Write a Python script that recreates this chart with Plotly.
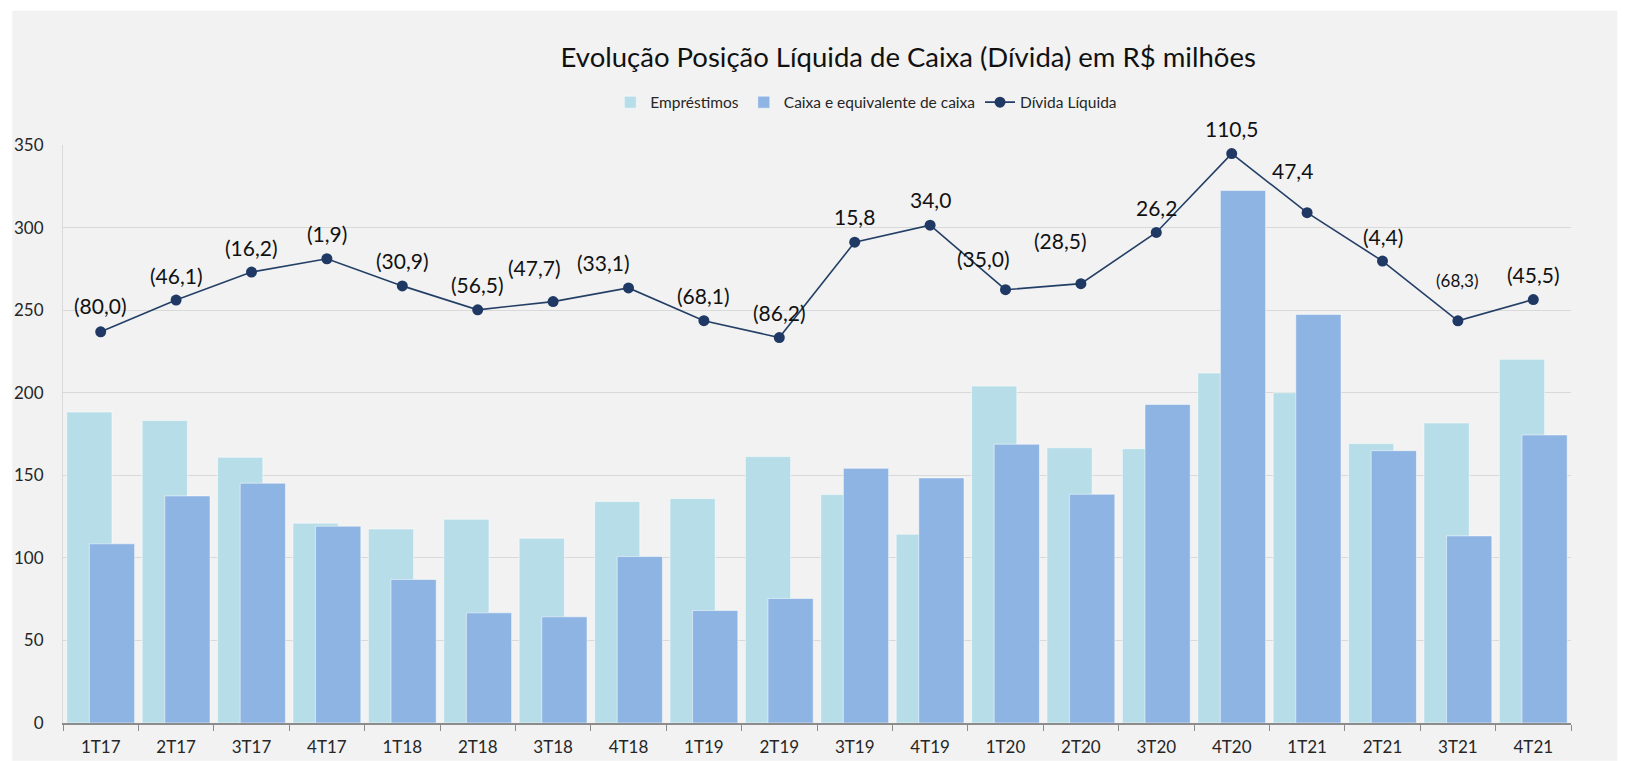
import plotly.graph_objects as go

categories = ["1T17", "2T17", "3T17", "4T17", "1T18", "2T18", "3T18", "4T18", "1T19", "2T19",
              "3T19", "4T19", "1T20", "2T20", "3T20", "4T20", "1T21", "2T21", "3T21", "4T21"]
emprestimos = [188.3, 183.1, 160.9, 121.0, 117.5, 123.4, 111.9, 134.1, 135.9, 161.3,
               138.3, 114.3, 204.0, 166.7, 166.1, 211.9, 200.0, 169.2, 181.7, 220.2]
caixa = [108.5, 137.5, 145.2, 119.2, 86.9, 66.7, 64.3, 100.8, 68.1, 75.4,
         154.2, 148.4, 168.8, 138.5, 192.9, 322.4, 247.4, 164.9, 113.3, 174.4]
divida_liquida = [-80.0, -46.1, -16.2, -1.9, -30.9, -56.5, -47.7, -33.1, -68.1, -86.2,
                  15.8, 34.0, -35.0, -28.5, 26.2, 110.5, 47.4, -4.4, -68.3, -45.5]
y_ticks = [0, 50, 100, 150, 200, 250, 300, 350]

# label placement styling (pixel shifts relative to each marker)
label_xshift = [0, 0, 0, 0, 0, 0, -19, -25, 0, 0, 0, 0, -22, -20, 0, 0, -15, 0, 0, 0]
label_yshift = [26, 25, 25, 25, 25, 25, 34, 25, 25, 25, 26, 26, 31, 43, 25, 25, 42, 25, 40, 25]
label_size = [21] * 18 + [17, 21]

FONT = "Lato"
TXT = "#262626"

def fmt(v):
    s = f"{abs(v):.1f}".replace(".", ",")
    return f"({s})" if v < 0 else s

fig = go.Figure()
fig.add_trace(go.Bar(
    x=categories, y=emprestimos, name="Empréstimos",
    width=0.6, offset=-0.45,
    marker=dict(color="#b7dee8", line=dict(color="rgba(255,255,255,0.5)", width=1)),
))
fig.add_trace(go.Bar(
    x=categories, y=caixa, name="Caixa e equivalente de caixa",
    width=0.6, offset=-0.15,
    marker=dict(color="#8eb4e3", line=dict(color="rgba(255,255,255,0.5)", width=1)),
))
fig.add_trace(go.Scatter(
    x=categories, y=divida_liquida, name="Dívida Líquida", yaxis="y2",
    mode="lines+markers",
    line=dict(color="#243f66", width=1.6),
    marker=dict(color="#1f3864", size=11),
    cliponaxis=False,
))

for c, v, dx, dy, fs in zip(categories, divida_liquida, label_xshift, label_yshift, label_size):
    fig.add_annotation(x=c, y=v, xref="x", yref="y2", text=fmt(v), showarrow=False,
                       xshift=dx, yshift=dy, font=dict(family=FONT, size=fs, color="#111111"),
                       xanchor="center", yanchor="middle")

# gray chart area
fig.add_shape(type="rect", xref="paper", yref="paper",
              x0=-0.0336, x1=1.0307, y0=-0.0651, y1=1.2324,
              fillcolor="#f2f2f2", line=dict(width=0), layer="below")

fig.update_layout(
    width=1626, height=761,
    margin=dict(l=62.7, r=55.3, t=144.5, b=37.7, pad=0),
    paper_bgcolor="white", plot_bgcolor="#f2f2f2",
    barmode="overlay",
    font=dict(family=FONT, color=TXT),
    title=dict(text="Evolução Posição Líquida de Caixa (Dívida) em R$ milhões",
               x=0.5605, xref="paper", xanchor="center",
               y=1 - 57 / 761, yref="container", yanchor="middle",
               font=dict(family=FONT, size=27.5, color="#111111")),
    legend=dict(orientation="h", x=0.5327, xanchor="center", y=1.0734, yanchor="middle",
                font=dict(family=FONT, size=15.5, color=TXT), bgcolor="rgba(0,0,0,0)",
                traceorder="normal"),
    xaxis=dict(type="category", showgrid=False, showline=True, linecolor="#8c8c8c", linewidth=1.8,
               ticks="outside", tickson="boundaries", ticklen=6, tickcolor="#8c8c8c", tickwidth=1.3,
               tickfont=dict(family=FONT, size=17, color=TXT), range=[-0.5, 19.5],
               ticklabelstandoff=8, automargin=False),
    yaxis=dict(range=[0, 350], tickvals=y_ticks, showgrid=True, gridcolor="#d9d9d9", gridwidth=1.3,
               showline=True, linecolor="#d9d9d9", zeroline=False, automargin=False,
               tickfont=dict(family=FONT, size=17, color=TXT), ticklabelstandoff=15),
    yaxis2=dict(overlaying="y", range=[-498.2, 119.7], visible=False, showgrid=False),
    showlegend=True,
)

fig.write_html("out.html", config={"displayModeBar": False},
               post_script="document.body.style.margin='0';document.body.style.padding='0';")
